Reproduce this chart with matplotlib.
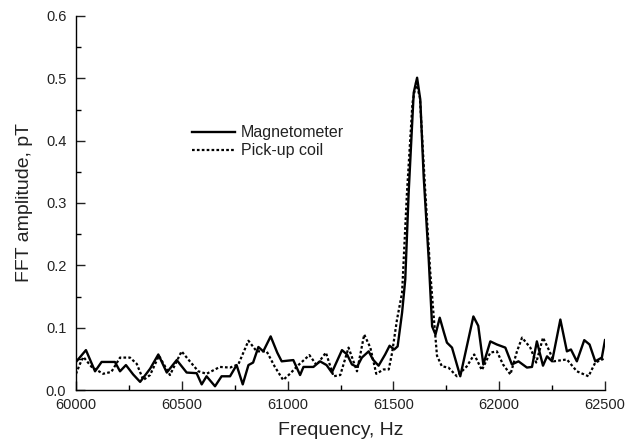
import matplotlib
matplotlib.use("Agg")
import matplotlib.pyplot as plt
from matplotlib.ticker import MultipleLocator

plt.rcParams['font.family'] = ['Liberation Sans', 'DejaVu Sans']

# Magnetometer spectrum (Hz, pT)
mag_freq = [60000, 60047, 60090, 60121, 60150, 60184, 60208, 60236, 60270, 60303,
            60350, 60389, 60429, 60476, 60523, 60570, 60594, 60617, 60657, 60688,
            60728, 60759, 60788, 60815, 60837, 60862, 60885, 60920, 60951, 60972,
            61027, 61059, 61075, 61122, 61153, 61184, 61209, 61257, 61281, 61304,
            61328, 61351, 61383, 61403, 61430, 61461, 61482, 61504, 61520, 61541,
            61556, 61572, 61596, 61612, 61627, 61643, 61667, 61683, 61699, 61719,
            61739, 61753, 61777, 61816, 61847, 61878, 61901, 61925, 61958, 61989,
            62013, 62029, 62060, 62091, 62131, 62155, 62178, 62207, 62226, 62250,
            62289, 62320, 62339, 62367, 62402, 62427, 62454, 62485, 62500]
mag_amp = [0.045, 0.064, 0.030, 0.045, 0.045, 0.045, 0.030, 0.040, 0.025, 0.013,
           0.034, 0.057, 0.028, 0.048, 0.028, 0.027, 0.009, 0.022, 0.006, 0.022,
           0.022, 0.040, 0.009, 0.040, 0.044, 0.069, 0.062, 0.086, 0.060, 0.046,
           0.048, 0.024, 0.037, 0.037, 0.046, 0.040, 0.028, 0.064, 0.057, 0.041,
           0.037, 0.052, 0.062, 0.049, 0.039, 0.057, 0.071, 0.065, 0.070, 0.124,
           0.177, 0.316, 0.477, 0.501, 0.466, 0.343, 0.209, 0.102, 0.089, 0.116,
           0.092, 0.076, 0.068, 0.022, 0.070, 0.118, 0.103, 0.041, 0.078, 0.073,
           0.070, 0.068, 0.041, 0.046, 0.036, 0.037, 0.078, 0.039, 0.054, 0.046,
           0.113, 0.062, 0.065, 0.046, 0.080, 0.073, 0.046, 0.052, 0.080]

# Pick-up coil spectrum (Hz, pT)
coil_freq = [60000, 60019, 60035, 60074, 60128, 60167, 60208, 60255, 60287, 60318,
             60350, 60392, 60444, 60499, 60538, 60578, 60617, 60680, 60728, 60767,
             60815, 60854, 60901, 60940, 60979, 61011, 61051, 61103, 61137, 61181,
             61217, 61249, 61288, 61328, 61362, 61391, 61419, 61454, 61478, 61494,
             61517, 61541, 61564, 61590, 61607, 61625, 61651, 61674, 61690, 61706,
             61729, 61760, 61800, 61847, 61882, 61918, 61958, 61989, 62018, 62053,
             62084, 62108, 62147, 62175, 62207, 62238, 62257, 62320, 62367, 62422,
             62454, 62500]
coil_amp = [0.026, 0.042, 0.053, 0.037, 0.026, 0.029, 0.052, 0.052, 0.042, 0.016,
            0.024, 0.055, 0.024, 0.062, 0.046, 0.030, 0.026, 0.037, 0.036, 0.041,
            0.079, 0.062, 0.062, 0.037, 0.016, 0.026, 0.040, 0.056, 0.040, 0.060,
            0.022, 0.024, 0.068, 0.030, 0.089, 0.068, 0.026, 0.033, 0.033, 0.060,
            0.113, 0.156, 0.316, 0.460, 0.493, 0.470, 0.316, 0.190, 0.120, 0.055,
            0.038, 0.036, 0.022, 0.038, 0.057, 0.032, 0.060, 0.062, 0.041, 0.025,
            0.062, 0.084, 0.068, 0.044, 0.084, 0.062, 0.046, 0.049, 0.030, 0.022,
            0.044, 0.051]

fig = plt.figure(figsize=(6.36, 4.47), dpi=100)
ax = fig.add_axes([76 / 636, 1 - 390 / 447, 529 / 636, 374 / 447])

ax.plot(mag_freq, mag_amp, color='black', lw=1.7, label='Magnetometer')
ax.plot(coil_freq, coil_amp, color='black', lw=1.6, linestyle=(0, (1.2, 1.0)),
        label='Pick-up coil')

ax.set_xlim(60000, 62500)
ax.set_ylim(0, 0.6)
ax.xaxis.set_major_locator(MultipleLocator(500))
ax.xaxis.set_minor_locator(MultipleLocator(250))
ax.yaxis.set_major_locator(MultipleLocator(0.1))
ax.yaxis.set_minor_locator(MultipleLocator(0.05))
ax.yaxis.set_major_formatter(plt.FormatStrFormatter('%.1f'))

ax.spines['top'].set_visible(False)
ax.spines['right'].set_visible(False)
for s in ('left', 'bottom'):
    ax.spines[s].set_linewidth(1.0)
ax.tick_params(which='major', direction='in', length=6.5, width=1.0,
               labelsize=10.5, colors='#222222')
ax.tick_params(axis='x', which='major', pad=6)
ax.tick_params(axis='y', which='major', pad=7)
ax.tick_params(which='minor', direction='in', length=3.3, width=1.0)

# lift the "0.0" label a little, as in the original
ax.yaxis.get_major_ticks()[0].label1.set_verticalalignment('bottom')

ax.set_xlabel('Frequency, Hz', fontsize=14, color='#222222', labelpad=7)
ax.set_ylabel('FFT amplitude, pT', fontsize=14, color='#222222', labelpad=9)

ax.legend(loc='upper left', bbox_to_anchor=(0.2075, 0.725), frameon=False,
          fontsize=11.5, handlelength=2.7, handletextpad=0.35, labelspacing=0.2,
          borderaxespad=0, labelcolor='#222222')

fig.savefig('out.png', dpi=100)
